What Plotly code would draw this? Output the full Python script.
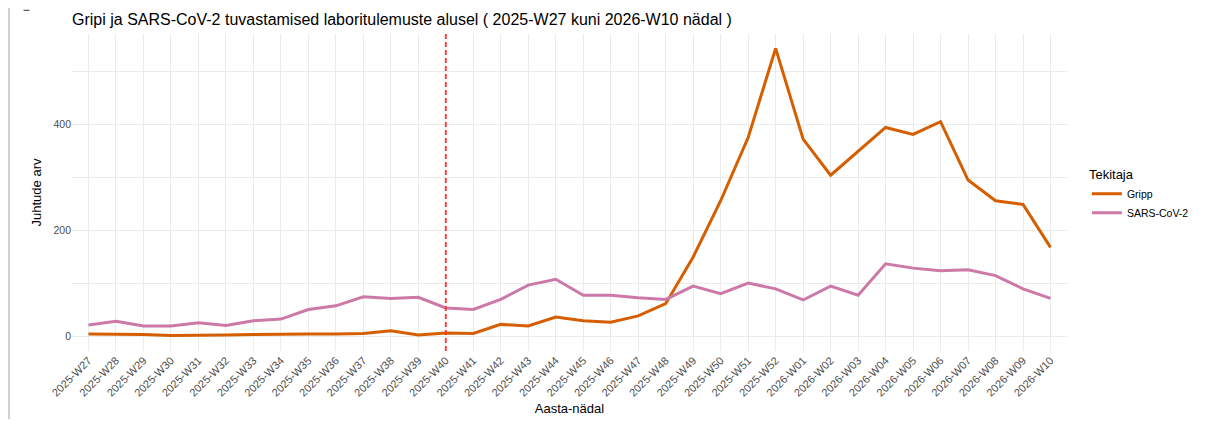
import plotly.graph_objects as go

weeks = [f"2025-W{w}" for w in range(27, 53)] + [f"2026-W{w:02d}" for w in range(1, 11)]

gripp = [5, 5, 4, 2, 2, 3, 4, 5, 5, 5, 6, 11, 3, 7, 6, 23, 20, 37, 30, 27, 39, 62,
         150, 256, 375, 543, 372, 304, 349, 394, 381, 405, 295, 256, 249, 168]
sars = [22, 29, 20, 20, 26, 21, 30, 33, 51, 58, 75, 72, 74, 54, 51, 70, 97, 108,
        78, 78, 73, 70, 95, 81, 101, 90, 69, 95, 78, 137, 129, 124, 126, 115, 90, 72]

series_names = ["Gripp", "SARS-CoV-2"]
series_colors = ["#D55E00", "#CC79A7"]
marker_week = "2025-W40"

title_text = "Gripi ja SARS-CoV-2 tuvastamised laboritulemuste alusel ( 2025-W27 kuni 2026-W10 nädal )"

font_family = "Liberation Sans, Arial, Helvetica, sans-serif"

# the page body has an 8px default margin, so the figure is 8px smaller
W, H = 1208, 418
T, B = 26, 71

fig = go.Figure()
for name, vals, col in zip(series_names, [gripp, sars], series_colors):
    fig.add_trace(go.Scatter(x=weeks, y=vals, mode="lines", name=name,
                             line=dict(color=col, width=3)))

ymax = max(max(gripp), max(sars))
pad = 0.05 * ymax
xi = weeks.index(marker_week)

fig.add_shape(type="line", xref="x", yref="paper", x0=xi, x1=xi, y0=0, y1=1,
              line=dict(color="rgba(255,45,45,0.9)", width=2, dash="5px,3px"))

ph = H - T - B
# left border artifact of the screenshot
fig.add_shape(type="line", xref="paper", yref="paper", x0=-0.0633, x1=-0.0633,
              y0=(H - B + 8) / ph, y1=(H - B - 424 + 8) / ph,
              line=dict(color="#A0A0A0", width=1))
fig.add_shape(type="line", xref="paper", yref="paper", x0=-0.0487, x1=-0.0427,
              y0=(H - B - 2) / ph, y1=(H - B - 2) / ph, line=dict(color="#333333", width=1))

grid = "#EBEBEB"
fig.update_layout(
    width=W, height=H,
    margin=dict(l=64, r=149, t=T, b=B),
    paper_bgcolor="white", plot_bgcolor="white",
    font=dict(family=font_family, color="#000000"),
    title=dict(text=title_text, x=64/W, xanchor="left", y=1 - 11/H, yanchor="middle",
               font=dict(size=16, color="#000000")),
    xaxis=dict(type="category", range=[-0.6, len(weeks) - 1 + 0.6], tickangle=-45,
               showgrid=True, gridcolor=grid, gridwidth=1, zeroline=False, showline=False,
               ticks="", tickfont=dict(size=11, color="#4D4D4D"),
               title=dict(text="Aasta-nädal", font=dict(size=13), standoff=6)),
    yaxis=dict(range=[-pad, ymax + pad], tickvals=[0, 200, 400], showgrid=True,
               gridcolor=grid, gridwidth=1, zeroline=False, showline=False, ticks="",
               tickfont=dict(size=10.5, color="#4D4D4D"),
               minor=dict(tickvals=[100, 300, 500], showgrid=True, gridcolor=grid, gridwidth=0.5),
               title=dict(text="Juhtude arv", font=dict(size=13), standoff=8)),
    legend=dict(x=1.02, xanchor="left", y=0.595, yanchor="top",
                title=dict(text="Tekitaja", font=dict(size=13)),
                font=dict(size=10.5), tracegroupgap=0, itemwidth=30),
    showlegend=True,
)

fig.write_html("out.html")
